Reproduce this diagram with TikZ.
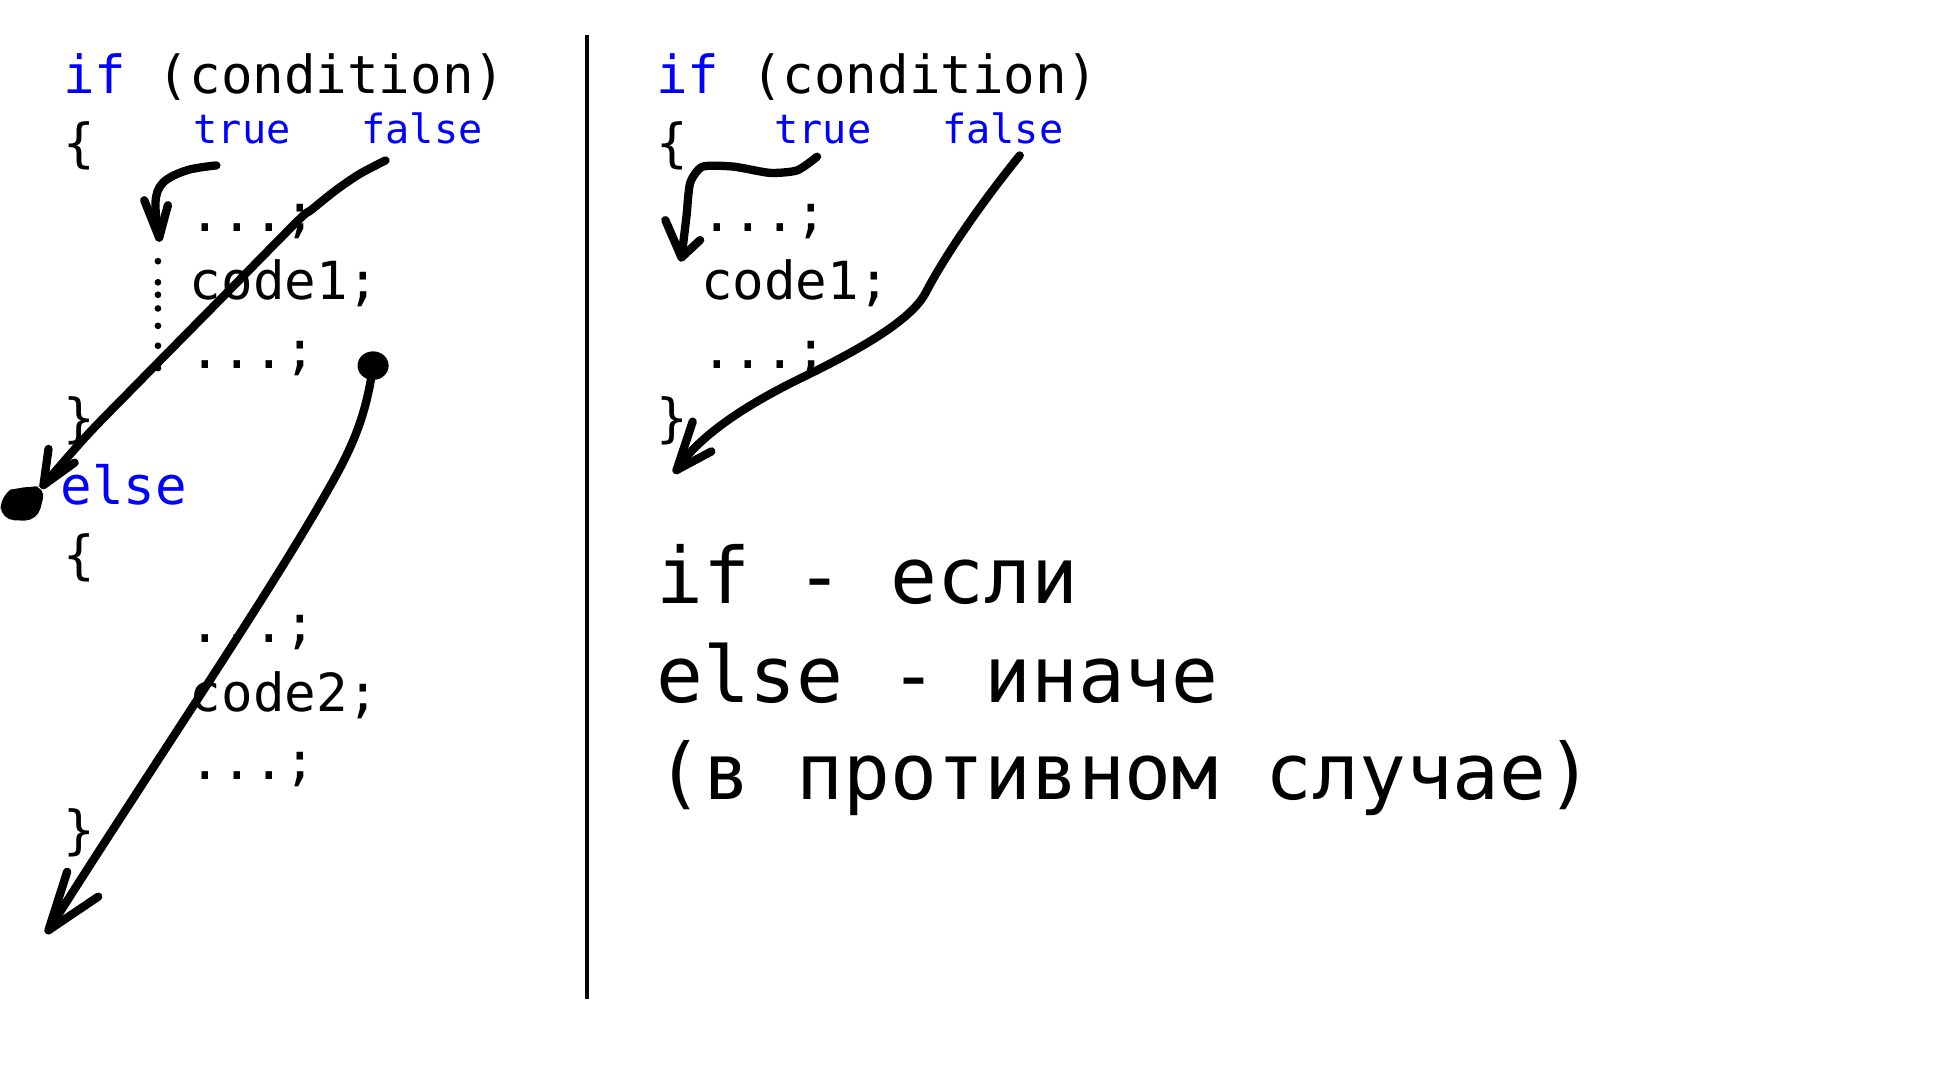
\documentclass[tikz,border=0pt]{standalone}
\usepackage{fontspec}
\newfontfamily\codefont{DejaVu Sans Mono}
\definecolor{kwblue}{RGB}{0,0,255}
\begin{document}
\begin{tikzpicture}[x=0.01cm,y=-0.01cm,
  code/.style={font=\codefont\fontsize{12}{12}\selectfont, anchor=base west, inner sep=0pt},
  kw/.style={code, text=kwblue},
  lbl/.style={font=\codefont\fontsize{9.2}{9.2}\selectfont, anchor=base west, inner sep=0pt, text=kwblue},
  big/.style={font=\codefont\fontsize{17.8}{17.8}\selectfont, anchor=base west, inner sep=0pt},
  pen/.style={line width=1.9pt, line cap=round, line join=round}]
\useasboundingbox (0,0) rectangle (1568,878);
% ---------- left column ----------
\node[code] (lif)   at (50,75)  {{\color{kwblue}if} (condition)};
\node[code] (lob1)  at (50,130) {\{};
\node[lbl]  (ltrue) at (155,115) {true};
\node[lbl]  (lfalse) at (290,115) {false};
\node[code] (ld1)   at (152,186) {...;};
\node[code] (lc1)   at (152,241) {code1;};
\node[code] (ld2)   at (152,296) {...;};
\node[code] (lcb1)  at (50,351) {\}};
\node[kw]   (lelse) at (48,406) {else};
\node[code] (lob2)  at (50,461) {\{};
\node[code] (ld3)   at (152,517) {...;};
\node[code] (lc2)   at (152,572) {code2;};
\node[code] (ld4)   at (152,627) {...;};
\node[code] (lcb2)  at (50,682) {\}};
% ---------- divider ----------
\coordinate (vt) at (472,28);
\coordinate (vb) at (472,803);
\draw[line width=0.9pt] (vt) -- (vb);
% ---------- right column ----------
\node[code] (rif)   at (527,75)  {{\color{kwblue}if} (condition)};
\node[code] (rob)   at (527,130) {\{};
\node[lbl]  (rtrue) at (622,115) {true};
\node[lbl]  (rfalse) at (757,115) {false};
\node[code] (rd1)   at (563,186) {...;};
\node[code] (rc1)   at (563,241) {code1;};
\node[code] (rd2)   at (563,296) {...;};
\node[code] (rcb)   at (527,351) {\}};
\node[big] (t1) at (527,485) {if - если};
\node[big] (t2) at (527,565) {else - иначе};
\node[big] (t3) at (527,643) {(в противном случае)};
% ---------- left arrows ----------
% true
\coordinate (ltS) at (174,133);
\coordinate (ltT) at (128,191);
\draw[pen] plot[smooth, tension=0.6] coordinates {(ltS) (150,137) (131,147) (125,163) (ltT)};
\draw[pen] (116,161) -- (ltT) -- (135,165);
\foreach \yy in {210,227,237,248,262,278,296}
  \fill (127,\yy) circle (2.7);
% false
\coordinate (lfS) at (310,129);
\coordinate (lfT) at (35,390);
\draw[pen] plot[smooth, tension=0.5] coordinates {(lfS) (289,140) (270,153) (250,169) (239,178) (172,246) (105,314) (70,350) (lfT)};
\draw[pen] (39,361) -- (lfT) -- (60,372);
\fill[rounded corners=3] (0,399) .. controls (8,394) and (18,392) .. (30,391) -- (37,391) -- (30,419) -- (1,418) -- cycle;
% else-branch arrow
\coordinate (l3S) at (300,294);
\coordinate (l3M) at (262,397);
\coordinate (l3T) at (39,748);
\fill (l3S) ellipse (12.5 and 11.5);
\draw[pen] (l3S) .. controls (294,338) and (281,364) .. (l3M) .. controls (215,480) and (112,632) .. (l3T);
\draw[pen] (54,701) -- (l3T) -- (79,721);
% ---------- right arrows ----------
\coordinate (rtS) at (657,126);
\coordinate (rtT) at (548,207);
\draw[pen] plot[smooth, tension=0.4] coordinates {(rtS) (641,137) (619,139) (590,134) (565,134) (555,147) (552,174) (rtT)};
\draw[pen] (535,177) -- (rtT) -- (563,193);
\coordinate (rfS) at (820,125);
\coordinate (rfM) at (744,236);
\coordinate (rfT) at (544,378);
\draw[pen] (rfS) .. controls (790,162) and (760,205) .. (rfM)
  .. controls (732,258) and (690,282) .. (640,306)
  .. controls (600,326) and (562,350) .. (rfT);
\draw[pen] (557,339) -- (rfT) -- (572,363);
\end{tikzpicture}
\end{document}
